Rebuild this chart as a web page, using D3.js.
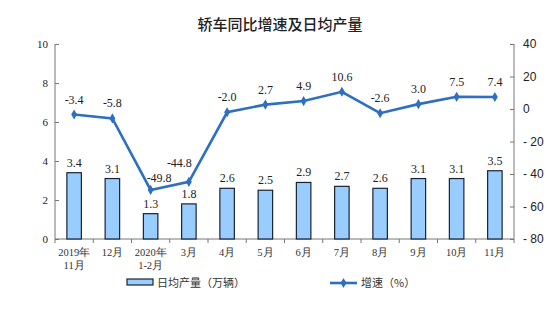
<!DOCTYPE html>
<html><head><meta charset="utf-8">
<script src="https://cdn.jsdelivr.net/npm/d3@7"></script>
<style>body{margin:0;background:#fff}</style>
</head><body>
<svg id="c" width="550" height="322"></svg>
<script>
const categories = ["2019年\n11月","12月","2020年\n1-2月","3月","4月","5月","6月","7月","8月","9月","10月","11月"];
const production = [3.4,3.1,1.3,1.8,2.6,2.5,2.9,2.7,2.6,3.1,3.1,3.5];
const growth = [-3.4,-5.8,-49.8,-44.8,-2.0,2.7,4.9,10.6,-2.6,3.0,7.5,7.4];
const leftTicks = [0,2,4,6,8,10];
const rightTicks = [-80,-60,-40,-20,0,20,40];

const svg = d3.select("#c");
const L = 55, R = 514, T = 44, B = 239;
const serif = "'Liberation Serif','Times New Roman',serif";
const sans = "'Liberation Sans',Arial,sans-serif";
const cjk = "'Noto Sans CJK SC',sans-serif";
const lineColor = "#2e6fc0";

const x = d3.scaleBand().domain(d3.range(categories.length)).range([L, R]).paddingInner(0).paddingOuter(0);
const yL = d3.scaleLinear().domain([0,10]).range([B, T]);
const yR = d3.scaleLinear().domain([-80,40]).range([B, T]);

svg.append("text").attr("x", 280).attr("y", 30).attr("text-anchor","middle")
  .attr("font-family", cjk).attr("font-size", 15).attr("font-weight",500).attr("fill","#222")
  .text("轿车同比增速及日均产量");

// left axis
const gl = svg.append("g").attr("transform", `translate(${L},0)`)
  .call(d3.axisLeft(yL).tickValues(leftTicks).tickSize(-4).tickPadding(7));
gl.select(".domain").attr("stroke","#777").attr("d", `M0,${T}V${B}`);
gl.selectAll(".tick line").attr("stroke","#777");
gl.selectAll(".tick text").attr("font-family", serif).attr("font-size", 11).attr("fill","#222");

// right axis
const gr = svg.append("g").attr("transform", `translate(${R},0)`)
  .call(d3.axisRight(yR).tickValues(rightTicks).tickSize(-4).tickPadding(9).tickFormat(d => d < 0 ? "- " + Math.abs(d) : String(d)));
gr.select(".domain").attr("stroke","#777").attr("d", `M0,${T}V${B}`);
gr.selectAll(".tick line").attr("stroke","#777");
gr.selectAll(".tick text").attr("font-family", sans).attr("font-size", 12).attr("fill","#222");

// x axis
const gx = svg.append("g").attr("transform", `translate(0,${B})`);
gx.append("line").attr("x1", L).attr("x2", R).attr("stroke","#777");
gx.selectAll("line.tk").data(d3.range(categories.length+1)).join("line").attr("class","tk")
  .attr("x1", i => i < categories.length ? x(i) : R).attr("x2", i => i < categories.length ? x(i) : R)
  .attr("y1",0).attr("y2",4).attr("stroke","#777");
const xl = gx.selectAll("text.xl").data(categories).join("text").attr("class","xl")
  .attr("x",(d,i)=>x(i)+x.bandwidth()/2).attr("y",16.5).attr("text-anchor","middle")
  .attr("font-family", serif).attr("font-size", 10.5).attr("fill","#333");
xl.each(function(d){
  const parts = d.split("\n");
  const t = d3.select(this);
  parts.forEach((p,k)=>t.append("tspan").attr("x", t.attr("x")).attr("dy", k===0?0:13).text(p));
});

// bars
const bw = 14.5;
svg.selectAll("rect.bar").data(production).join("rect").attr("class","bar")
  .attr("x",(d,i)=>x(i)+x.bandwidth()/2-bw/2).attr("width",bw)
  .attr("y",d=>yL(d)).attr("height",d=>B-yL(d))
  .attr("fill","#99ccff").attr("stroke","#1a2333").attr("stroke-width",1.2);
svg.selectAll("text.bv").data(production).join("text").attr("class","bv")
  .attr("x",(d,i)=>x(i)+x.bandwidth()/2).attr("y",d=>yL(d)-6).attr("text-anchor","middle")
  .attr("font-family", serif).attr("font-size", 12).attr("fill","#222").text(d=>d.toFixed(1));

// line
const line = d3.line().x((d,i)=>x(i)+x.bandwidth()/2).y(d=>yR(d));
svg.append("path").datum(growth).attr("d",line).attr("fill","none").attr("stroke",lineColor).attr("stroke-width",2.6);
const diamond = d3.symbol().type(d3.symbolDiamond).size(30);
svg.selectAll("path.pt").data(growth).join("path").attr("class","pt")
  .attr("transform",(d,i)=>`translate(${x(i)+x.bandwidth()/2},${yR(d)})`)
  .attr("d",diamond).attr("fill",lineColor);
// label nudges for the two crowded points (2020 1-2月 shifted right/lower, 3月 shifted left/higher)
const labelDx = i => i === 2 ? 8.5 : (i === 3 ? -9.5 : 0);
const labelDy = i => i === 2 ? -8 : (i === 3 ? -15 : -11);
svg.selectAll("text.lv").data(growth).join("text").attr("class","lv")
  .attr("x",(d,i)=>x(i)+x.bandwidth()/2+labelDx(i)).attr("y",(d,i)=>yR(d)+labelDy(i)).attr("text-anchor","middle")
  .attr("font-family", serif).attr("font-size", 12).attr("fill","#222").text(d=>d.toFixed(1));

// legend
const lg = svg.append("g");
lg.append("rect").attr("x",127).attr("y",279).attr("width",26).attr("height",6)
  .attr("fill","#99ccff").attr("stroke","#1a2333").attr("stroke-width",1.2);
lg.append("text").attr("x",157).attr("y",287).attr("font-family",cjk).attr("font-size",11).attr("fill","#333").text("日均产量（万辆）");
lg.append("line").attr("x1",330).attr("x2",357).attr("y1",283).attr("y2",283).attr("stroke",lineColor).attr("stroke-width",2.6);
lg.append("path").attr("transform","translate(343.5,283)").attr("d",diamond).attr("fill",lineColor);
lg.append("text").attr("x",361).attr("y",287).attr("font-family",cjk).attr("font-size",11).attr("fill","#333").text("增速（%）");
</script>
</body></html>
